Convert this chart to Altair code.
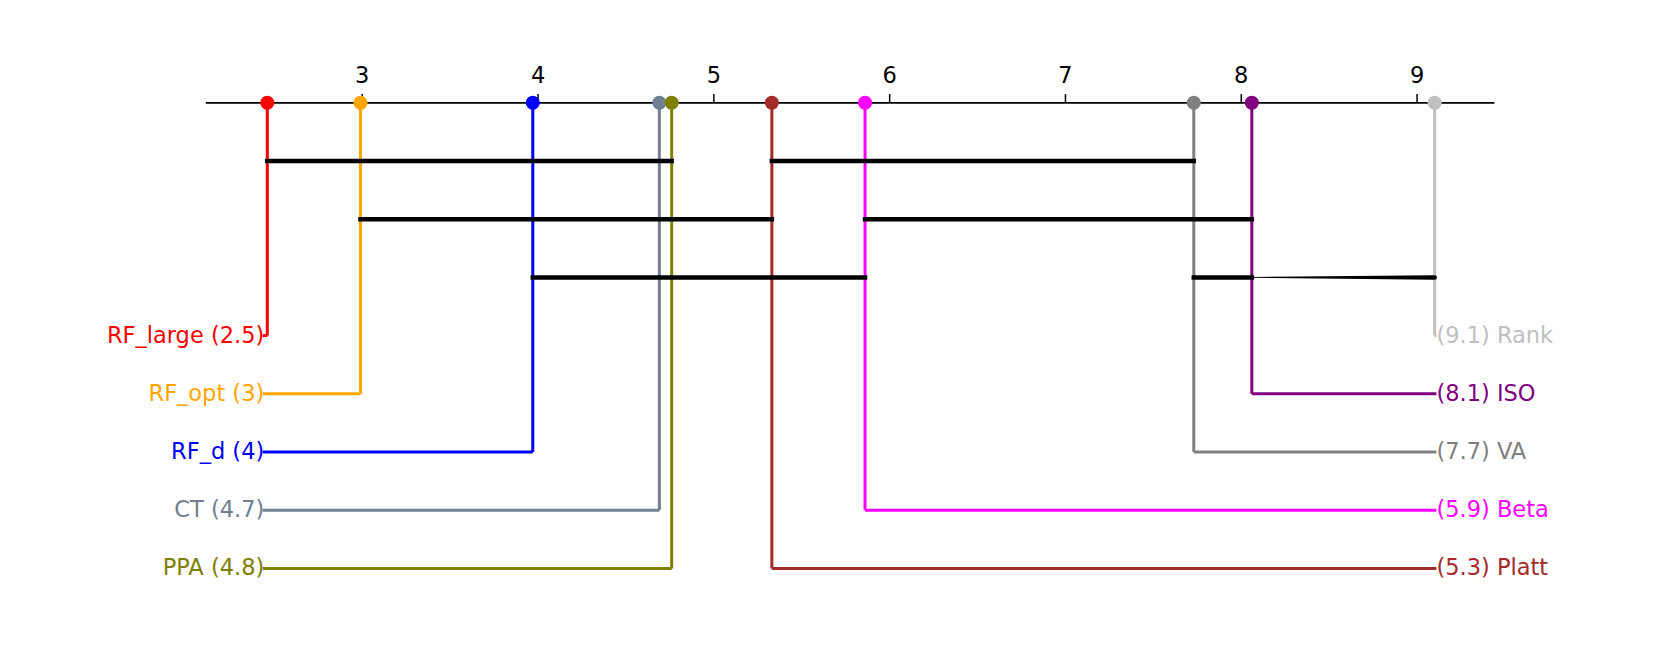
import altair as alt
import pandas as pd

# ---- data ----
methods = ["RF_large", "RF_opt", "RF_d", "CT", "PPA", "Platt", "Beta", "VA", "ISO", "Rank"]
ranks = [2.46, 2.99, 3.97, 4.69, 4.76, 5.33, 5.86, 7.73, 8.06, 9.10]
colors = ["#ff0000", "#ffa500", "#0000ff", "#708090", "#808000",
          "#a52a2a", "#ff00ff", "#808080", "#800080", "#c0c0c0"]
tick_values = [3, 4, 5, 6, 7, 8, 9]
axis_range = [2.11, 9.44]
label_edges = [2.434, 9.11]
clique_from = ["RF_large", "Platt", "RF_opt", "Beta", "RF_d", "VA"]
clique_to = ["PPA", "VA", "Platt", "ISO", "Beta", "ISO"]
clique_row = [1, 1, 2, 2, 3, 3]
taper_from = "ISO"
taper_to = "Rank"
taper_row = 3

FONT = "DejaVu Sans"
FS = 22.5

rank_of = dict(zip(methods, ranks))


def fmt(v):
    s = f"{round(v, 1):.1f}"
    return s[:-2] if s.endswith(".0") else s


order = sorted(methods, key=lambda m: rank_of[m])
half = len(order) // 2
left = order[:half]
right = list(reversed(order[half:]))

rows = []
for i, m in enumerate(left):
    rows.append(dict(method=m, rank=rank_of[m], row=4 + i, y0=0, edge=label_edges[0],
                     label=f"{m} ({fmt(rank_of[m])})", side="left"))
for i, m in enumerate(right):
    rows.append(dict(method=m, rank=rank_of[m], row=4 + i, y0=0, edge=label_edges[1],
                     label=f"({fmt(rank_of[m])}) {m}", side="right"))
df = pd.DataFrame(rows)

df_axis = pd.DataFrame({"x": [axis_range[0]], "x2": [axis_range[1]], "y": [0]})
df_ticks = pd.DataFrame({"t": tick_values, "y": [0] * len(tick_values),
                         "y2": [-0.15] * len(tick_values),
                         "ty": [-0.46] * len(tick_values),
                         "lab": [str(t) for t in tick_values]})
df_cl = pd.DataFrame({"x": [rank_of[a] for a in clique_from],
                      "x2": [rank_of[b] for b in clique_to],
                      "y": clique_row})
df_taper = pd.DataFrame({"x": [rank_of[taper_from], rank_of[taper_to]],
                         "y": [taper_row, taper_row], "w": [0, 1]})

xs = alt.Scale(domain=[0.985, 10.342], nice=False, zero=False)
ys = alt.Scale(domain=[-1.629, 9.505], nice=False, zero=False, reverse=True)
cs = alt.Scale(domain=methods, range=colors)


def X(f):
    return alt.X(f, type="quantitative", scale=xs, axis=None)


def Y(f):
    return alt.Y(f, type="quantitative", scale=ys, axis=None)


col = alt.Color("method:N", scale=cs, legend=None)

base = alt.Chart(df)

verticals = base.mark_rule(strokeWidth=3).encode(x=X("rank"), y=Y("y0"), y2="row", color=col)
horiz = base.mark_rule(strokeWidth=3).encode(x=X("rank"), x2="edge", y=Y("row"), color=col)

axis_line = alt.Chart(df_axis).mark_rule(strokeWidth=1.7, color="black").encode(
    x=X("x"), x2="x2", y=Y("y"))
ticks = alt.Chart(df_ticks).mark_rule(strokeWidth=1.5, color="black").encode(
    x=X("t"), y=Y("y"), y2="y2")
tick_labels = alt.Chart(df_ticks).mark_text(
    font=FONT, fontSize=FS, baseline="middle", align="center", color="black").encode(
    x=X("t"), y=Y("ty"), text="lab:N")

cliques = alt.Chart(df_cl).mark_rule(strokeWidth=4.5, color="black", strokeCap="square").encode(
    x=X("x"), x2="x2", y=Y("y"))
taper = alt.Chart(df_taper).mark_trail(color="black").encode(
    x=X("x"), y=Y("y"), order="x:Q",
    size=alt.Size("w:Q", scale=alt.Scale(domain=[0, 1], range=[0.8, 4.5]), legend=None))

dots = base.mark_circle(size=200, opacity=1).encode(x=X("rank"), y=Y("y0"), color=col)

lab_left = alt.Chart(df[df.side == "left"]).mark_text(
    font=FONT, fontSize=FS, align="right", baseline="middle", dx=1.5).encode(
    x=X("edge"), y=Y("row"), text="label:N", color=col)
lab_right = alt.Chart(df[df.side == "right"]).mark_text(
    font=FONT, fontSize=FS, align="left", baseline="middle", dx=0).encode(
    x=X("edge"), y=Y("row"), text="label:N", color=col)

chart = alt.layer(
    axis_line, ticks, tick_labels, verticals, horiz, cliques, taper, dots, lab_left, lab_right
).properties(width=1645, height=648, padding=0, autosize="none").configure_view(stroke=None)

chart.save("out.html", embed_options={"renderer": "svg", "actions": False})
